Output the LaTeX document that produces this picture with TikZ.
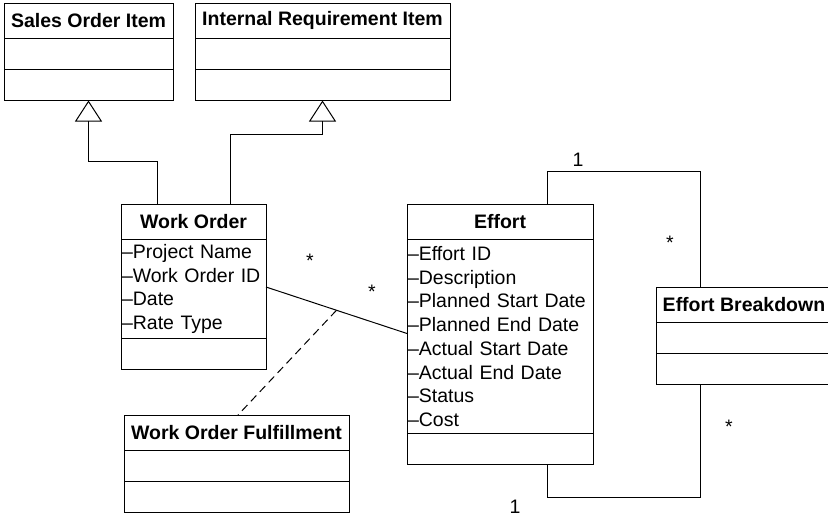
\documentclass[tikz,border=0pt]{standalone}
\usepackage{fontspec}
\setmainfont{Liberation Sans}
\usetikzlibrary{arrows.meta,positioning}

\begin{document}
\begin{tikzpicture}[
        x=1pt, y=-1pt,
        line width=1pt,
        font=\fontsize{19.5pt}{23.7pt}\selectfont,
        classhead/.style={draw,anchor=north west,minimum width=#1,minimum height=35.5pt,inner sep=0pt,outer sep=0pt,font=\fontsize{19.5pt}{23.7pt}\selectfont\bfseries},
        classpart/.style={draw,minimum width=#1,minimum height=31pt,inner sep=0pt,outer sep=0pt},
        classattr/.style 2 args={draw,text width=#1,minimum height=#2,align=left,inner xsep=1pt,inner ysep=0pt,outer sep=0pt},
        inherit/.style={-{Triangle[open,length=21pt,width=27pt]}},
        mult/.style={inner sep=0pt}
    ]
    \useasboundingbox (0,0) rectangle (828,517);

    \node[classhead=169pt] (soi) at (4,3) {Sales Order Item};
    \node[classpart=169pt, below=0pt of soi] (soiAttr) {};
    \node[classpart=169pt, below=0pt of soiAttr] (soiOps) {};

    \node[classhead=255pt] (irq) at (195,3) {Internal Requirement Item};
    \node[classpart=255pt, below=0pt of irq] (irqAttr) {};
    \node[classpart=255pt, below=0pt of irqAttr] (irqOps) {};

    \node[classhead=145pt] (wo) at (121,204) {Work Order};
    \node[classattr={143pt}{99pt}, below=0pt of wo] (woAttr) {–Project Name\\–Work Order ID\\–Date\\–Rate Type};
    \node[classpart=145pt, below=0pt of woAttr] (woOps) {};

    \node[classhead=186pt] (eff) at (407,204) {Effort};
    \node[classattr={184pt}{194pt}, below=0pt of eff] (effAttr) {–Effort ID\\–Description\\–Planned Start Date\\–Planned End Date\\–Actual Start Date\\–Actual End Date\\–Status\\–Cost};
    \node[classpart=186pt, below=0pt of effAttr] (effOps) {};

    \node[classhead=225pt] (wof) at (124,415) {Work Order Fulfillment};
    \node[classpart=225pt, below=0pt of wof] (wofAttr) {};
    \node[classpart=225pt, below=0pt of wofAttr] (wofOps) {};

    \node[classhead=176pt] (eb) at (656,287) {Effort Breakdown};
    \node[classpart=176pt, below=0pt of eb] (ebAttr) {};
    \node[classpart=176pt, below=0pt of ebAttr] (ebOps) {};

    \draw[inherit] ([xshift=-36.5pt]wo.north) -- ++(0,-43) -| (soiOps.south);
    \draw[inherit] ([xshift=36.5pt]wo.north) -- ++(0,-70) -| (irqOps.south);

    \draw ([yshift=2pt]woAttr.east) -- coordinate[pos=0.5] (link) ([yshift=3pt]effAttr.west);
    \draw[dash pattern=on 8pt off 5pt] (link) -- ([xshift=1.5pt]wof.north);

    \draw ([xshift=47pt]eff.north) -- ++(0,-33) -| ([xshift=-44pt]eb.north);
    \draw ([xshift=47pt]effOps.south) -- ++(0,33) -| ([xshift=-44pt]ebOps.south);

    \node[mult] (woMult) at (310,261) {*};
    \node[mult] (effMult) at (372,292) {*};
    \node[mult] (topOne) at (578,160) {1};
    \node[mult] (topMany) at (670,243) {*};
    \node[mult] (bottomMany) at (729,427) {*};
    \node[mult] (bottomOne) at (515,507) {1};
\end{tikzpicture}
\end{document}
